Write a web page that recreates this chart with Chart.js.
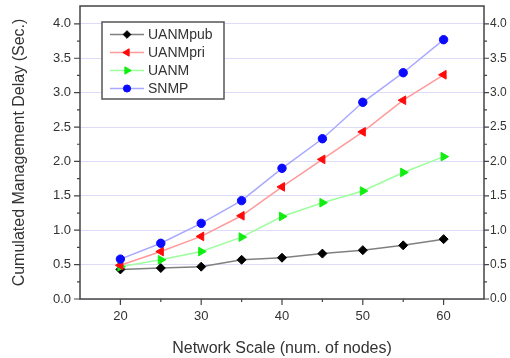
<!DOCTYPE html>
<html><head><meta charset="utf-8">
<script src="https://cdn.jsdelivr.net/npm/chart.js@4/dist/chart.umd.min.js"></script>
<style>html,body{margin:0;padding:0;background:#fff}#wrap{width:510px;height:358px}</style>
</head><body><div id="wrap"><canvas id="c" width="510" height="358"></canvas></div>
<script>
const nodes=[20,25,30,35,40,45,50,55,60];
const uanmPub=[0.43,0.45,0.47,0.57,0.60,0.66,0.71,0.78,0.87];
const uanmPri=[0.49,0.69,0.91,1.21,1.63,2.03,2.43,2.89,3.26];
const uanm=[0.47,0.57,0.69,0.90,1.20,1.40,1.57,1.84,2.07];
const snmp=[0.58,0.81,1.10,1.43,1.90,2.33,2.86,3.29,3.77];
const seriesNames=['UANMpub','UANMpri','UANM','SNMP'];
const xTicks=[20,30,40,50,60];
const xMinorTicks=[25,35,45,55];
const yTicks=[0,0.5,1,1.5,2,2.5,3,3.5,4];
const yMinorTicks=[0.25,0.75,1.25,1.75,2.25,2.75,3.25,3.75];
const xTitle='Network Scale (num. of nodes)';
const yTitle='Cumulated Management Delay (Sec.)';

const FONT='"Liberation Sans", Arial, sans-serif';
function mk(name,vals,line,pt,style,rot,r){
  return {label:name,data:nodes.map((x,i)=>({x:x,y:vals[i]})),borderColor:line,backgroundColor:pt,
    pointBackgroundColor:pt,pointBorderColor:pt,pointStyle:style,rotation:rot,pointRadius:r,pointHoverRadius:r,
    borderWidth:1.5,pointBorderWidth:1,tension:0,yAxisID:'y'};
}
const datasets=[
  mk(seriesNames[3],snmp,'#a8a8ff','#0a0aff','circle',0,4.2),
  mk(seriesNames[1],uanmPri,'#ff9a9a','#ff0a0a','triangle',-90,5),
  mk(seriesNames[2],uanm,'#9cff9c','#10ee10','triangle',90,5),
  mk(seriesNames[0],uanmPub,'#808080','#000000','rectRot',0,4.5)
];
const legendOrder=[3,1,2,0];

const framePlugin={id:'frame',afterDraw(chart){
  const ctx=chart.ctx,a=chart.chartArea,sx=chart.scales.x,sy=chart.scales.y;
  ctx.save();
  ctx.strokeStyle='#444';ctx.lineWidth=1.5;
  ctx.strokeRect(a.left,a.top,a.right-a.left,a.bottom-a.top);
  ctx.lineWidth=1.2;ctx.beginPath();
  xTicks.forEach(v=>{const p=sx.getPixelForValue(v);ctx.moveTo(p,a.bottom);ctx.lineTo(p,a.bottom+6);});
  xMinorTicks.forEach(v=>{const p=sx.getPixelForValue(v);ctx.moveTo(p,a.bottom);ctx.lineTo(p,a.bottom+3);});
  yTicks.forEach(v=>{const p=sy.getPixelForValue(v);ctx.moveTo(a.left,p);ctx.lineTo(a.left-6,p);ctx.moveTo(a.right,p);ctx.lineTo(a.right+5,p);});
  yMinorTicks.forEach(v=>{const p=sy.getPixelForValue(v);ctx.moveTo(a.left,p);ctx.lineTo(a.left-3,p);ctx.moveTo(a.right,p);ctx.lineTo(a.right+3,p);});
  ctx.stroke();
  // legend
  const bx=102,by=22,bw=122,bh=77;
  ctx.fillStyle='#fff';ctx.fillRect(bx,by,bw,bh);
  ctx.strokeStyle='#555';ctx.lineWidth=1.5;ctx.strokeRect(bx,by,bw,bh);
  ctx.font='14px '+FONT;ctx.textBaseline='middle';ctx.textAlign='left';
  legendOrder.forEach((di,i)=>{
    const ds=chart.data.datasets[di];const y=by+12.5+i*18;
    ctx.strokeStyle=ds.borderColor;ctx.lineWidth=1.5;ctx.beginPath();ctx.moveTo(110,y);ctx.lineTo(144,y);ctx.stroke();
    ctx.fillStyle=ds.pointBackgroundColor;ctx.strokeStyle=ds.pointBorderColor;ctx.lineWidth=1;
    Chart.helpers.drawPoint(ctx,{pointStyle:ds.pointStyle,rotation:ds.rotation,radius:ds.pointRadius*0.85,borderWidth:1},127,y);
    ctx.fillStyle='#333';ctx.fillText(ds.label,148,y+1);
  });
  ctx.restore();
}};

const tickFont={family:FONT,size:13};
function fitV(w){return s=>{s.width=w;s.paddingTop=0;s.paddingBottom=0;};}
new Chart(document.getElementById('c'),{
  type:'line',
  data:{datasets:datasets},
  options:{responsive:false,devicePixelRatio:1,animation:false,
    layout:{padding:{top:4,left:0,right:0,bottom:0}},
    plugins:{legend:{display:false},tooltip:{enabled:false}},
    scales:{
      x:{type:'linear',min:15,max:65,
        afterBuildTicks:s=>{s.ticks=xTicks.map(v=>({value:v}));},
        afterFit:s=>{s.height=59;s.paddingLeft=0;s.paddingRight=0;},
        grid:{display:false,drawTicks:false},border:{display:false},
        ticks:{font:tickFont,color:'#333',padding:10,maxRotation:0},
        title:{display:true,text:xTitle,font:{family:FONT,size:16},color:'#333',padding:{top:0,bottom:0}}},
      y:{type:'linear',position:'left',min:0,max:4.26,
        afterBuildTicks:s=>{s.ticks=yTicks.map(v=>({value:v}));},
        afterFit:fitV(80),
        grid:{color:'#dcdcf8',lineWidth:1,drawTicks:false},border:{display:false},
        ticks:{font:tickFont,color:'#333',padding:9,callback:v=>v.toFixed(1)},
        title:{display:true,text:yTitle,font:{family:FONT,size:16},color:'#333',padding:{top:10,bottom:0}}},
      y2:{type:'linear',position:'right',min:0,max:4.26,
        afterBuildTicks:s=>{s.ticks=yTicks.map(v=>({value:v}));},
        afterFit:fitV(26),
        grid:{display:false,drawTicks:false},border:{display:false},
        ticks:{font:{family:FONT,size:12},color:'#333',padding:6,callback:v=>v.toFixed(1)}}
    }},
  plugins:[framePlugin]
});
</script></body></html>
